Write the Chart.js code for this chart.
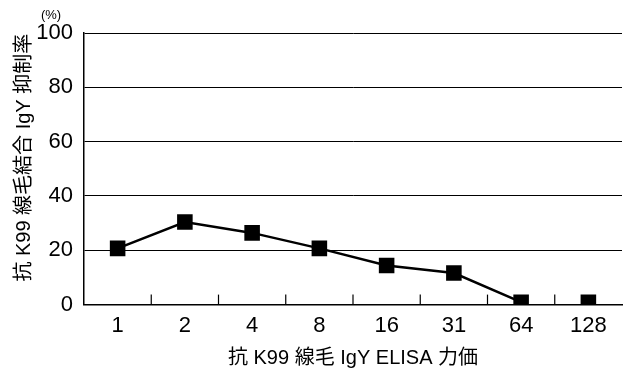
<!DOCTYPE html>
<html lang="ja">
<head>
  <meta charset="UTF-8">
  <title>抗 K99 線毛 IgY 抑制率</title>
  <script src="https://cdn.jsdelivr.net/npm/chart.js"></script>
  <style>
    html, body { margin: 0; padding: 0; background: #fff; }
    #wrap { width: 633px; height: 370px; }
  </style>
</head>
<body>
  <div id="wrap"><canvas id="myChart" width="633" height="370"></canvas></div>
  <script>
    // data
    const titers = ['1', '2', '4', '8', '16', '31', '64', '128'];
    const inhibition = [20.7, 30.4, 26.4, 20.7, 14.4, 11.6, 0.9, 0.9];
    const yTicks = [0, 20, 40, 60, 80, 100];

    const fontFamily = '"Liberation Sans", Arial, "Noto Sans CJK JP", sans-serif';

    // short tick marks pointing up from the x axis, between categories
    const innerTicks = {
      id: 'innerTicks',
      afterDraw(chart) {
        const x = chart.scales.x;
        const ctx = chart.ctx;
        const bottom = chart.chartArea.bottom;
        ctx.save();
        ctx.strokeStyle = '#000';
        ctx.lineWidth = 1.2;
        for (let i = 1; i < titers.length; i++) {
          const px = (x.getPixelForTick(i - 1) + x.getPixelForTick(i)) / 2;
          ctx.beginPath();
          ctx.moveTo(px, bottom);
          ctx.lineTo(px, bottom - 10);
          ctx.stroke();
        }
        // unit label above the y axis
        ctx.fillStyle = '#000';
        ctx.font = '13px ' + fontFamily;
        ctx.textAlign = 'center';
        ctx.textBaseline = 'middle';
        ctx.fillText('(%)', 51, chart.chartArea.top - 18);
        ctx.restore();
      }
    };

    const ctx = document.getElementById('myChart').getContext('2d');
    const myChart = new Chart(ctx, {
      type: 'line',
      data: {
        labels: titers,
        datasets: [{
          data: inhibition,
          borderColor: '#000',
          backgroundColor: '#000',
          borderWidth: 2.5,
          pointStyle: 'rect',
          pointRadius: 11,
          pointBorderWidth: 0,
          fill: false,
          tension: 0,
          // the last point stands alone, no line from 64 to 128
          segment: {
            borderColor: c => c.p1DataIndex === titers.length - 1 ? 'rgba(0,0,0,0)' : '#000'
          }
        }]
      },
      plugins: [innerTicks],
      options: {
        responsive: false,
        animation: false,
        layout: { padding: { top: 33, right: 0, bottom: 0, left: 0 } },
        plugins: {
          legend: { display: false },
          tooltip: { enabled: false }
        },
        scales: {
          x: {
            offset: true,
            grid: { display: false, drawOnChartArea: false },
            border: { color: '#000', width: 1.5 },
            ticks: {
              color: '#000',
              font: { family: fontFamily, size: 22 },
              padding: 0
            },
            title: {
              display: true,
              text: '抗 K99 線毛 IgY ELISA 力価',
              color: '#000',
              font: { family: fontFamily, size: 20 },
              padding: { top: 7, bottom: 0 }
            }
          },
          y: {
            min: 0,
            max: 100,
            afterBuildTicks: s => { s.ticks = yTicks.map(v => ({ value: v })); },
            afterFit: s => { s.width = 84; },
            grid: { color: '#000', lineWidth: 1, drawTicks: false },
            border: { color: '#000', width: 1.5 },
            ticks: {
              color: '#000',
              font: { family: fontFamily, size: 22 },
              padding: 11
            },
            title: {
              display: true,
              text: '    抗 K99 線毛結合 IgY 抑制率',
              color: '#000',
              font: { family: fontFamily, size: 20 },
              padding: { top: 12, bottom: 0 }
            }
          }
        }
      }
    });
  </script>
</body>
</html>
